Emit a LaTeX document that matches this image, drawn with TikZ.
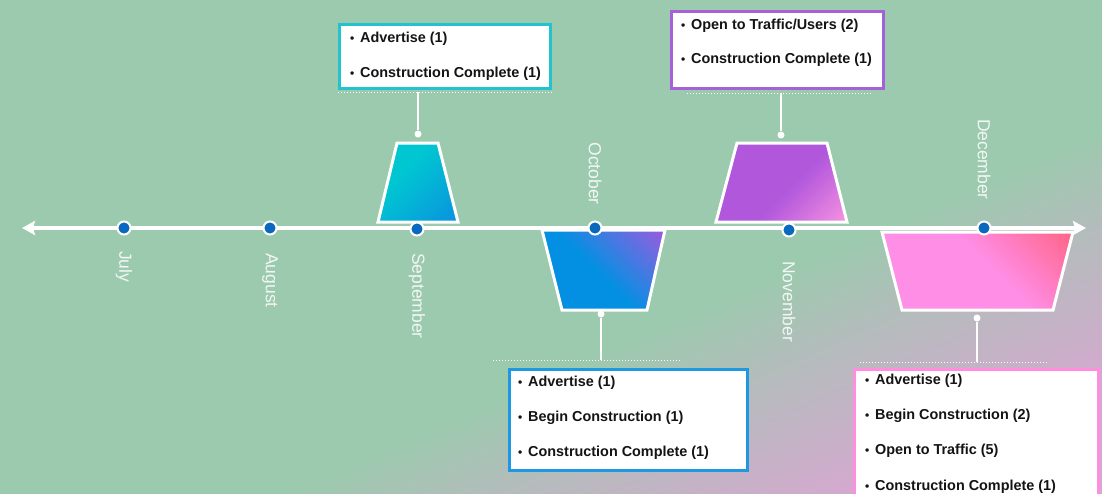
\documentclass[tikz,border=0pt]{standalone}
\usepackage{fontspec}
\setmainfont{Liberation Sans}
\usetikzlibrary{arrows.meta}
\definecolor{bggreen}{HTML}{9CCAAE}
\definecolor{bgmid}{HTML}{B4BCBC}
\definecolor{bgpink}{HTML}{D6A8D0}
\definecolor{dotblue}{HTML}{0A68BE}
\definecolor{monthc}{HTML}{F2F7F4}
\definecolor{sepA}{HTML}{00C6D2}
\definecolor{sepB}{HTML}{0A92DE}
\definecolor{octA}{HTML}{0490E2}
\definecolor{octB}{HTML}{9A5CE0}
\definecolor{novA}{HTML}{B157DC}
\definecolor{novB}{HTML}{F792E2}
\definecolor{decA}{HTML}{FF8EE6}
\definecolor{decB}{HTML}{FF6488}
\definecolor{boxA}{HTML}{22C3CF}
\definecolor{boxB}{HTML}{1E98E0}
\definecolor{boxC}{HTML}{A660D8}
\definecolor{boxD}{HTML}{FF8EDF}
\newcommand{\bul}{\makebox[10pt][l]{\fontsize{12}{12}\selectfont\raisebox{0.3pt}{•}}}
% #1 x, #2 y, #3 angle, #4 base colour, #5 glow colour, #6 length
\newcommand{\glowfill}[6]{%
  \begin{scope}[shift={(#1,#2)}, rotate=#3]
    \foreach \s in {0,3,...,#6} {%
      \pgfmathtruncatemacro\q{100-100*\s/#6}%
      \fill[#5!\q!#4] (\s,-300) rectangle (\s+3.4,300);%
    }
  \end{scope}}
\begin{document}
\begin{tikzpicture}[x=1pt,y=-1pt,
  box/.style={draw, rectangle, line width=3pt, fill=white, inner sep=0pt},
  item/.style={anchor=west, inner sep=0pt, text=black!92,
    font=\fontsize{14.4}{16}\selectfont\bfseries},
  month/.style={font=\fontsize{17.5}{18}\selectfont, text=monthc, rotate=-90, inner sep=0pt},
  mdot/.style={circle, fill=dotblue, draw=white, line width=2pt, minimum size=13pt, inner sep=0pt},
  cdot/.style={circle, fill=white, minimum size=7pt, inner sep=0pt},
  conn/.style={white, line width=1.5pt},
  dotline/.style={white, line width=1pt, dash pattern=on 1pt off 2pt},
  trap/.style={draw=white, line width=3pt, line join=miter},
  tline/.style={white, line width=4.5pt,
    {Stealth[length=13pt,width=14pt,inset=2pt]}-{Stealth[length=13pt,width=14pt,inset=2pt]}}
]
\useasboundingbox (0,0) rectangle (1102,493);
% background
\fill[bggreen] (-6,-6) rectangle (1108,499);
\begin{scope}
  \clip (-6,-6) rectangle (1108,499);
  \begin{scope}[shift={(551,246.5)}, rotate=-66]
    \foreach \t in {115,118,...,358} {
      \ifnum\t<205
        \pgfmathtruncatemacro\p{(\t-115)/0.9}
        \colorlet{sc}{bgmid!\p!bggreen}
      \else
        \pgfmathtruncatemacro\p{min(100,(\t-205)/1.5)}
        \colorlet{sc}{bgpink!\p!bgmid}
      \fi
      \fill[sc] (\t,-800) rectangle (\t+3.6,800);
    }
    \fill[bgpink] (360,-800) rectangle (900,800);
  \end{scope}
\end{scope}

% trapezoids
\path[trap, fill=sepA, path picture={\glowfill{458}{222}{135}{sepA}{sepB}{72}}]
  (397,143) -- (438,143) -- (458,222) -- (378,222) -- cycle;
\path[trap, fill=octA, path picture={\glowfill{665}{230}{225}{octA}{octB}{75}}]
  (542,230) -- (665,230) -- (647,310) -- (562,310) -- cycle;
\path[trap, fill=novA, path picture={\glowfill{847}{222}{135}{novA}{novB}{62}}]
  (737,143) -- (827,143) -- (847,222) -- (716,222) -- cycle;
\path[trap, fill=decA, path picture={\glowfill{1073}{232}{225}{decA}{decB}{82}}]
  (882,232) -- (1073,232) -- (1053,310) -- (902,310) -- cycle;

% timeline
\coordinate (L) at (22,228);
\coordinate (R) at (1086,228);
\draw[tline] (L) -- (R);

\node[mdot] (m1) at (124,228) {};
\node[mdot] (m2) at (270,228) {};
\node[mdot] (m3) at (417,229) {};
\node[mdot] (m4) at (595,228) {};
\node[mdot] (m5) at (789,230) {};
\node[mdot] (m6) at (984,228) {};

\node[month, anchor=west] (l1) at (124,251) {July};
\node[month, anchor=west] (l2) at (270,253) {August};
\node[month, anchor=west] (l3) at (417,253) {September};
\node[month, anchor=east] (l4) at (595,205) {October};
\node[month, anchor=west] (l5) at (789,261) {November};
\node[month, anchor=east] (l6) at (984,200) {December};

% connector dots
\node[cdot] (c1) at (418,134) {};
\node[cdot] (c2) at (601,314) {};
\node[cdot] (c3) at (781,135) {};
\node[cdot] (c4) at (977,318) {};

% dotted lines
\coordinate (d1a) at (338,92);  \coordinate (d1b) at (552,92);
\coordinate (d2a) at (493,360); \coordinate (d2b) at (680,360);
\coordinate (d3a) at (687,93);  \coordinate (d3b) at (873,93);
\coordinate (d4a) at (860,362); \coordinate (d4b) at (1047,362);

% boxes
\node[box, draw=boxA, minimum width=211pt, minimum height=64pt] (b1) at (445,56.5) {};
\node[box, draw=boxB, minimum width=238pt, minimum height=101pt] (b2) at (628.5,420) {};
\node[box, draw=boxC, minimum width=212pt, minimum height=77pt] (b3) at (777.5,50) {};
\node[box, draw=boxD, minimum width=244pt, minimum height=150pt] (b4) at (976.5,444) {};

\draw[dotline] (d1a) -- (d1b);
\draw[dotline] (d2a) -- (d2b);
\draw[dotline] (d3a) -- (d3b);
\draw[dotline] (d4a) -- (d4b);

\draw[conn] (c1) -- (c1 |- d1a);
\draw[conn] (c2) -- (c2 |- d2a);
\draw[conn] (c3) -- (c3 |- d3a);
\draw[conn] (c4) -- (c4 |- d4a);

% box texts
\node[item] (t11) at (350,39) {\bul Advertise (1)};
\node[item] (t12) at (350,74) {\bul Construction Complete (1)};

\node[item] (t21) at (518,383) {\bul Advertise (1)};
\node[item] (t22) at (518,418) {\bul Begin Construction (1)};
\node[item] (t23) at (518,453) {\bul Construction Complete (1)};

\node[item] (t31) at (681,26) {\bul Open to Traffic/Users (2)};
\node[item] (t32) at (681,60) {\bul Construction Complete (1)};

\node[item] (t41) at (865,381) {\bul Advertise (1)};
\node[item] (t42) at (865,416) {\bul Begin Construction (2)};
\node[item] (t43) at (865,451) {\bul Open to Traffic (5)};
\node[item] (t44) at (865,487) {\bul Construction Complete (1)};
\end{tikzpicture}
\end{document}
